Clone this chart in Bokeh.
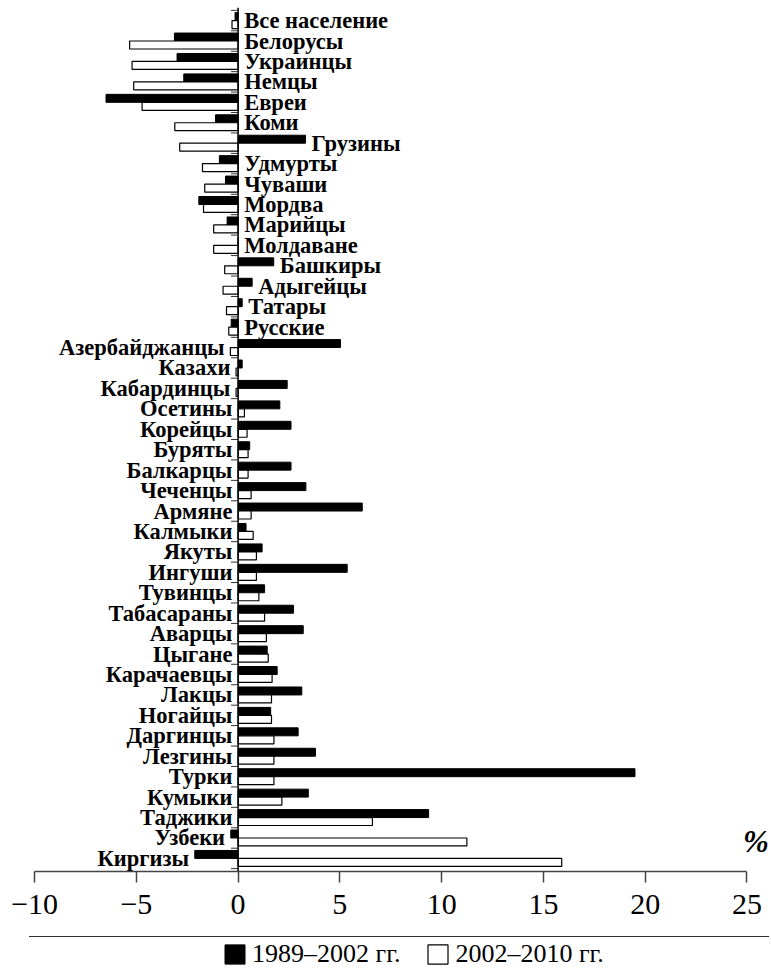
from bokeh.plotting import figure
from bokeh.layouts import column
from bokeh.models import ColumnDataSource, Range1d, FixedTicker, Span, Legend, LegendItem
from bokeh.core.properties import value
from bokeh.embed import file_html
from bokeh.resources import INLINE

categories = ["Все население", "Белорусы", "Украинцы", "Немцы", "Евреи", "Коми", "Грузины",
              "Удмурты", "Чуваши", "Мордва", "Марийцы", "Молдаване", "Башкиры", "Адыгейцы",
              "Татары", "Русские", "Азербайджанцы", "Казахи", "Кабардинцы", "Осетины", "Корейцы",
              "Буряты", "Балкарцы", "Чеченцы", "Армяне", "Калмыки", "Якуты", "Ингуши", "Тувинцы",
              "Табасараны", "Аварцы", "Цыгане", "Карачаевцы", "Лакцы", "Ногайцы", "Даргинцы",
              "Лезгины", "Турки", "Кумыки", "Таджики", "Узбеки", "Киргизы"]
change_1989_2002 = [-0.15, -3.13, -3.0, -2.67, -6.49, -1.11, 3.31, -0.92, -0.62, -1.93, -0.54, 0.0,
                    1.75, 0.69, 0.2, -0.34, 5.03, 0.2, 2.41, 2.05, 2.6, 0.57, 2.6, 3.33, 6.1, 0.39,
                    1.18, 5.36, 1.3, 2.72, 3.2, 1.43, 1.92, 3.13, 1.6, 2.95, 3.8, 19.5, 3.45, 9.36,
                    -0.36, -2.13]
change_2002_2010 = [-0.3, -5.33, -5.21, -5.13, -4.72, -3.11, -2.87, -1.75, -1.64, -1.7, -1.2, -1.2,
                    -0.66, -0.74, -0.57, -0.46, -0.38, -0.1, -0.1, 0.31, 0.44, 0.49, 0.49, 0.64, 0.64,
                    0.74, 0.9, 0.9, 1.02, 1.3, 1.39, 1.48, 1.67, 1.64, 1.64, 1.76, 1.76, 1.76, 2.15,
                    6.6, 11.24, 15.9]
series_labels = ["1989–2002 гг.", "2002–2010 гг."]
x_ticks = [-10, -5, 0, 5, 10, 15, 20, 25]
tick_labels = ["−10", "−5", "0", "5", "10", "15", "20", "25"]
unit_label = "%"
first_left_labelled = "Азербайджанцы"

n = len(categories)
pos = [n - 1 - i for i in range(n)]
split = categories.index(first_left_labelled)
bar_h = 0.39

src = ColumnDataSource(dict(
    cat=categories, y=pos,
    yb=[p + bar_h / 2 for p in pos], yw=[p - bar_h / 2 for p in pos],
    b=change_1989_2002, w=change_2002_2010))

lx, ly, lt, rx, ry, rt = [], [], [], [], [], []
for i, c in enumerate(categories):
    b, w = change_1989_2002[i], change_2002_2010[i]
    if i < split:
        lx.append(max(0, b, w) + 0.3); ly.append(pos[i]); lt.append(c)
    else:
        rx.append(min(0, b, w) - 0.28); ry.append(pos[i]); rt.append(c)

p = figure(frame_width=740, frame_height=864, output_backend="svg", toolbar_location=None,
           x_range=Range1d(-10.25, 26.11), y_range=Range1d(-0.64, n - 1 + 0.64),
           y_axis_location=None, title=None,
           min_border_left=29, min_border_right=0, min_border_top=7, min_border_bottom=65)
p.outline_line_color = None
p.xgrid.visible = False
p.ygrid.visible = False
p.background_fill_color = "white"

black_style = dict(fill_color="black", line_color="black", line_width=1)
white_style = dict(fill_color="white", line_color="black", line_width=1.2)

p.hbar(y="yb", right="b", left=0, height=bar_h, source=src, **black_style)
p.hbar(y="yw", right="w", left=0, height=bar_h, source=src, **white_style)

p.add_layout(Span(location=0, dimension="height", line_color="black", line_width=1.5))

bounds = [k - 0.5 for k in range(n + 1)]
p.segment(x0=[-0.35] * len(bounds), x1=[0] * len(bounds), y0=bounds, y1=bounds,
          line_color="#333", line_width=1)

font = value("Liberation Serif")
p.text(x=lx, y=ly, text=lt, text_align="left", text_baseline="middle",
       text_font=font, text_font_style="bold", text_font_size="22.5px", text_color="black")
p.text(x=rx, y=ry, text=rt, text_align="right", text_baseline="middle",
       text_font=font, text_font_style="bold", text_font_size="22.5px", text_color="black")
p.text(x=[26.08], y=[0.85], text=[unit_label], text_align="right", text_baseline="middle",
       text_font=font, text_font_style="bold italic", text_font_size="31px", text_color="black")

ax = p.xaxis[0]
ax.ticker = FixedTicker(ticks=x_ticks)
ax.major_label_overrides = {t: l for t, l in zip(x_ticks, tick_labels)}
ax.bounds = (x_ticks[0], x_ticks[-1])
ax.axis_line_color = "#444"
ax.axis_line_width = 1.5
ax.major_tick_line_color = "#444"
ax.major_tick_line_width = 1.5
ax.major_tick_out = 11
ax.major_tick_in = 0
ax.minor_tick_line_color = None
ax.major_label_standoff = 12
ax.major_label_text_font = "Liberation Serif"
ax.major_label_text_font_size = "30px"
ax.major_label_text_color = "black"

# legend strip below the chart (series renderers kept outside its visible range)
q = figure(width=769, height=34, output_backend="svg", toolbar_location=None,
           x_range=Range1d(0, 1), y_range=Range1d(-3, -2),
           x_axis_location=None, y_axis_location=None, title=None,
           min_border_left=0, min_border_right=0, min_border_top=0, min_border_bottom=0)
q.outline_line_color = None
q.xgrid.visible = False
q.ygrid.visible = False
lb = q.hbar(y="yb", right="b", left=0, height=bar_h, source=src, **black_style)
lw = q.hbar(y="yw", right="w", left=0, height=bar_h, source=src, **white_style)
legend = Legend(items=[LegendItem(label=series_labels[0], renderers=[lb], index=0),
                       LegendItem(label=series_labels[1], renderers=[lw], index=0)],
                orientation="horizontal", location=(193, 1),
                glyph_width=25, glyph_height=24, label_standoff=5, spacing=25,
                label_text_font="Liberation Serif", label_text_font_size="26px",
                label_text_color="black", label_text_baseline="middle",
                padding=0, margin=0, border_line_color=None, background_fill_alpha=0)
q.add_layout(legend, "center")

layout = column(p, q, spacing=0)
open("out.html", "w").write(file_html(layout, INLINE))
